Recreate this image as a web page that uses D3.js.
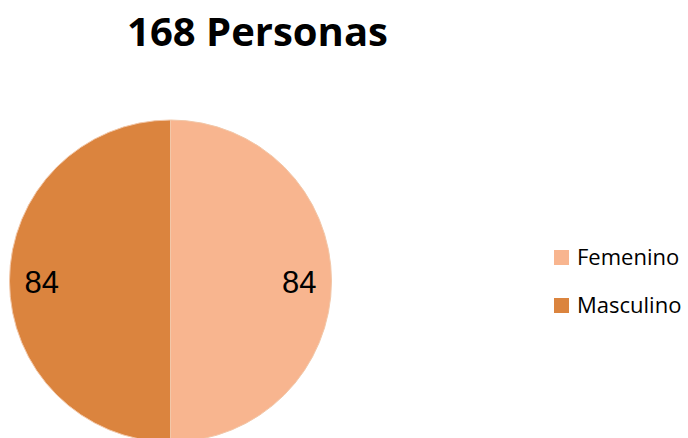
<!DOCTYPE html>
<head>
    <meta charset="utf-8">
    <title>168 Personas</title>
    <style>
        body { margin: 0; background: #fff; }
        text { font-family: "Open Sans", Lato, sans-serif; }
    </style>
</head>
<body>
<div id="chart"></div>
<script src="https://d3js.org/d3.v7.min.js"></script>
<script>

var width = 688,
    height = 438;

// data
var categories = ["Femenino", "Masculino"];
var values = [84, 84];
var colors = ["#f8b58f", "#db843e"];
var title = "168 Personas";

var data = categories.map(function(c, i) {
    return { label: c, value: values[i], color: colors[i] };
});

var svg = d3.select("#chart").append("svg")
    .attr("width", width)
    .attr("height", height);

svg.append("text")
    .attr("x", 257.5)
    .attr("y", 46)
    .attr("text-anchor", "middle")
    .style("font-weight", "bold")
    .style("font-size", "40px")
    .style("fill", "#000")
    .text(title);

var radius = 161;
var g = svg.append("g")
    .attr("transform", "translate(170.5,281)");

var pie = d3.pie()
    .sort(null)
    .value(function(d) { return d.value; });

var arc = d3.arc().innerRadius(0).outerRadius(radius);

var arcs = pie(data);

g.selectAll("path")
    .data(arcs)
    .enter().append("path")
    .attr("d", arc)
    .style("fill", function(d) { return d.data.color; })
    .style("stroke", "#f2c7a8")
    .style("stroke-width", 1);

// value labels near the outer edge
var labelArc = d3.arc().innerRadius(radius * 0.8).outerRadius(radius * 0.8);
g.selectAll(".lbl")
    .data(arcs)
    .enter().append("text")
    .attr("class", "lbl")
    .attr("transform", function(d) {
        var c = labelArc.centroid(d);
        return "translate(" + c[0] + "," + (c[1] + 12) + ")";
    })
    .attr("text-anchor", "middle")
    .style("font-family", "'Liberation Sans', Arial, sans-serif")
    .style("font-size", "31px")
    .style("fill", "#000")
    .text(function(d) { return d.data.value; });

// legend
var legend = svg.selectAll(".legend")
    .data(data)
    .enter().append("g")
    .attr("class", "legend")
    .attr("transform", function(d, i) { return "translate(554," + (250 + i * 48) + ")"; });

legend.append("rect")
    .attr("width", 15)
    .attr("height", 15)
    .style("fill", function(d) { return d.color; });

legend.append("text")
    .attr("x", 23)
    .attr("y", 15)
    .style("font-size", "22px")
    .style("fill", "#000")
    .text(function(d) { return d.label; });

</script>
</body>
</html>
